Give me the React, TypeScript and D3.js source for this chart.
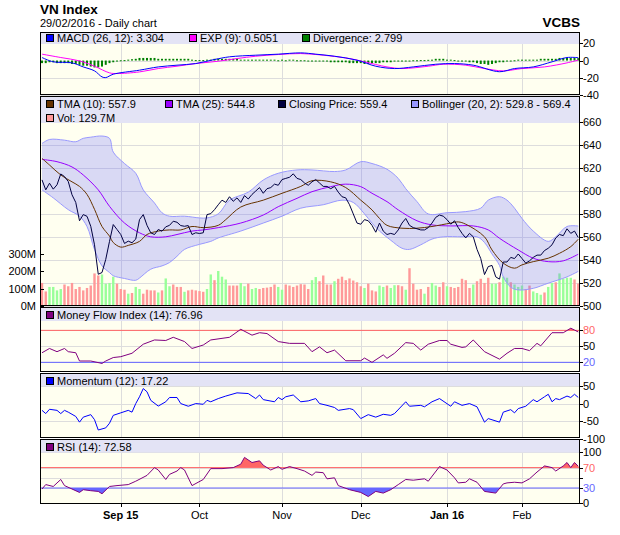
import React from "react";
import * as d3 from "d3";

type P = [number, number];

// closing price, one value per trading day (Aug 3 2015 .. Feb 29 2016)
const closePrice = [
  609.7, 601, 606.8, 601.6, 605.4, 614.9, 612.6, 608.3, 596.7, 590,
  574, 579.4, 577.9, 569.2, 553, 527.3, 528.8, 540.3, 556, 570.7,
  566.4, 562, 554.2, 556.2, 554.8, 558, 575, 579.4, 570, 563.5,
  562, 566.4, 564.9, 568.7, 570, 573.6, 572.7, 569.8, 569.2, 569.8,
  562, 563.5, 562.9, 563.5, 579.4, 580.2, 583.7, 588, 592, 590,
  595, 591, 594, 590, 596, 593, 597, 600, 603, 598,
  602, 603, 606, 605, 610, 611, 612, 615, 611, 610,
  607, 605, 608, 610, 607, 604, 604, 602, 604, 599,
  595, 594, 588, 580, 572, 571, 575, 574, 570, 564,
  572, 565, 562, 563, 562, 566, 572, 576, 570, 568,
  567, 566, 566, 568, 572, 577, 579, 578, 575, 571,
  574, 568, 563, 559, 563, 560, 549, 541, 527, 534,
  535, 525, 523, 538, 538, 542, 541, 545, 541, 537,
  539, 542, 544, 544, 548, 550, 553, 559, 562, 561,
  567, 563, 565, 559.4,
];

// volume in millions
const volumeM = [
  133, 84, 110, 110, 90, 98, 124, 114, 133, 98,
  110, 90, 104, 118, 188, 176, 182, 129, 133, 169,
  129, 98, 94, 71, 75, 110, 98, 71, 94, 90,
  90, 78, 90, 159, 114, 124, 110, 110, 82, 90,
  94, 90, 86, 82, 98, 182, 149, 202, 169, 153,
  118, 118, 118, 133, 114, 129, 98, 104, 98, 104,
  106, 110, 124, 110, 94, 124, 118, 110, 118, 126,
  124, 98, 149, 167, 143, 176, 124, 124, 143, 157,
  169, 149, 159, 147, 137, 114, 104, 129, 90, 84,
  118, 110, 118, 104, 120, 120, 114, 94, 218, 129,
  94, 98, 71, 110, 133, 118, 110, 137, 114, 110,
  104, 110, 157, 149, 104, 124, 143, 157, 133, 163,
  129, 129, 137, 169, 163, 137, 124, 110, 118, 98,
  118, 84, 75, 65, 78, 110, 133, 137, 188, 157,
  163, 163, 153, 129.7,
];

// 1 = up day (green bar), 0 = down day (red bar)
const volUp = [
  0, 0, 1, 1, 1, 1, 0, 0, 0, 0,
  0, 0, 0, 0, 0, 0, 1, 1, 1, 1,
  0, 0, 0, 1, 0, 1, 1, 0, 0, 0,
  0, 1, 0, 1, 1, 0, 0, 0, 1, 0,
  0, 0, 0, 0, 1, 1, 0, 1, 1, 1,
  0, 0, 0, 1, 1, 0, 1, 1, 0, 0,
  0, 0, 0, 1, 1, 0, 0, 0, 0, 0,
  0, 0, 1, 1, 0, 0, 0, 0, 1, 0,
  0, 0, 0, 0, 0, 0, 1, 0, 0, 0,
  1, 1, 0, 1, 1, 0, 0, 1, 0, 0,
  0, 0, 1, 0, 1, 1, 0, 0, 1, 0,
  0, 0, 0, 0, 0, 1, 0, 0, 0, 0,
  1, 1, 0, 1, 1, 0, 1, 1, 1, 0,
  0, 1, 1, 1, 0, 1, 1, 0, 1, 1,
  1, 1, 0, 0,
];

// [bar index, value]
const tma10: P[] = [
  [0, 628.5], [2, 622.7], [5, 614], [8, 608], [10, 604], [12, 597], [14, 584],
  [16, 569], [18, 560.6], [19, 555], [21, 551], [23, 552.5], [26, 556], [28, 562],
  [31, 565], [34, 566], [37, 566], [40, 569], [43, 568], [47, 570], [49, 575],
  [53, 586], [59, 592], [64, 598], [69, 604], [72, 609], [77, 608], [81, 603],
  [85, 592], [88, 583.5], [90, 576], [92, 570], [96, 567.5], [100, 567.5],
  [104, 569], [109, 572], [111, 573], [113, 571], [118, 560], [120, 548.5],
  [123, 537], [126, 532.6], [128, 535.5], [131, 538.3], [135, 541.3],
  [138, 545.6], [141, 551.4], [143, 557.9],
];

const tma25: P[] = [
  [0, 627.6], [4, 625.6], [8, 621], [11, 614], [15, 601], [18, 586.6], [22, 572],
  [26, 563.5], [29, 560], [33, 560], [36, 562], [40, 565], [43, 566], [47, 568],
  [53, 572], [59, 579], [63, 586.3], [68, 593.6], [72, 599.4], [77, 603.8],
  [81, 606], [85, 603.8], [88, 598], [92, 590.7], [95, 583.5], [100, 574],
  [104, 570.4], [109, 569.5], [115, 569.5], [119, 566], [122, 558.7],
  [127, 548.5], [131, 541.3], [135, 538.3], [139, 539], [143, 544.8],
];

const bollUpper: P[] = [
  [0, 641.5], [2, 645], [6, 644.4], [9, 643], [11, 646], [13, 647], [16, 648],
  [18, 646], [19, 634], [22, 624], [25, 615.5], [27, 601], [30, 589.5], [32, 581],
  [34, 578], [38, 578], [42, 576.5], [44, 576.5], [47, 580], [50, 592], [55, 599],
  [59, 609.6], [63, 615.5], [68, 618.4], [72, 618.4], [78, 617], [81, 618.4],
  [85, 625.6], [88, 624], [92, 619], [95, 611], [97, 602], [100, 590.7],
  [103, 580], [108, 581], [113, 582], [117, 585], [119, 592], [122, 595],
  [124, 592], [126, 585], [128, 576], [131, 565], [135, 556], [137, 560],
  [140, 569], [143, 569.4],
];

const bollLower: P[] = [
  [0, 601], [3, 594], [7, 583.7], [10, 578], [12, 569], [14, 549], [16, 534.6],
  [18, 528.8], [19, 526], [22, 523.6], [25, 522], [26, 524], [29, 531.7],
  [32, 534.6], [34, 537.5], [36, 543], [38, 549], [42, 553.4], [45, 556],
  [47, 559], [53, 565], [59, 572], [64, 578], [69, 585], [75, 588], [80, 592],
  [83, 590], [86, 580], [88, 572], [90, 565], [93, 557], [96, 550], [98, 549],
  [101, 553], [104, 558], [107, 560], [112, 560], [116, 560], [118, 555],
  [120, 545], [122, 535], [123, 525], [125, 516], [127, 513.6], [131, 515],
  [135, 519.5], [140, 525], [143, 529.8],
];

const macdLine: P[] = [
  [0, 3.5], [3, -1.5], [8, -2.7], [11, -7.4], [14, -12], [16, -19], [17, -19.8],
  [19, -15.9], [26, -11.2], [31, -7.4], [36, -5.4], [41, -3.5], [46, 1.2],
  [50, 4.3], [57, 6.2], [63, 7.4], [69, 8.9], [73, 7.4], [78, 5], [84, 0.4],
  [89, -6.6], [94, -9.3], [99, -7.4], [105, -4.3], [110, -3.5], [115, -5.4],
  [122, -13], [126, -9.3], [131, -7.4], [136, -1.5], [140, 3.5], [143, 3.304],
];

const expLine: P[] = [
  [0, 7.4], [5, 3.5], [10, -0.4], [14, -6.6], [18, -14.3], [20, -15.1],
  [26, -13.2], [31, -9.3], [36, -6.6], [41, -3.5], [47, -0.8], [52, 2.3],
  [57, 5], [63, 7], [69, 8.1], [75, 6.2], [82, 2.3], [86, -1.5], [92, -7.4],
  [96, -9.3], [103, -6.6], [107, -4.3], [113, -5.4], [118, -9.3], [123, -12],
  [128, -9.3], [134, -7.4], [140, -2.7], [143, 0.5051],
];

const divergence = [
  -3, -3, -2, -2, -3, -3, -3, -3, -4, -4, -5, -6, -6, -7, -8, -8, -7, -5, -3, -2, -1,
  0.3, 0.5, 1, 1.5,
  2, 3, 3, 3, 3, 3, 2, 2, 2, 2, 2, 2, 2, 2, 2, 1,
  0.5, 0.5, 0.5, 1,
  1, 2, 2, 2, 2, 2, 2, 2, 1, 1, 1, 1, 1, 1, 1, 1, 1, 1,
  0.3, 1, 0.3, 1, 1, 0.3, 0.3, 0.3,
  -1, -1, -1, -1, -1, -1, -2, -2, -2, -2, -2, -3, -3, -3, -3, -4, -4, -3, -3, -3, -2, -2, -2, -1, -1,
  -0.5, -0.3, 0, 0.3, 0.3, 0.5, 0.5, 0.8,
  1, 2, 2, 2, 1, 1,
  0.5, 0, -0.5,
  -1, -2, -2, -3, -4, -4, -5, -4, -3, -2, -2, -1, -1,
  0.3,
  1, 1, 1, 1, 1, 1, 2, 2, 2, 2, 2, 3, 3, 3, 3, 3, 2.8,
];

const mfi: P[] = [
  [0, 38], [2, 46], [4, 40], [6, 46], [7, 40], [9, 38], [10, 22.5], [13, 22.5],
  [16, 18], [17, 22.5], [19, 29], [21, 30.6], [24, 37], [27, 54], [30, 62],
  [33, 61], [35, 67], [38, 59], [40, 46], [43, 52.5], [45, 62], [48, 65],
  [50, 67], [53, 82], [56, 71], [58, 75.6], [60, 74], [63, 59], [66, 55.6],
  [70, 55.6], [72, 40], [74, 49], [76, 38], [78, 43], [81, 23], [85, 23],
  [86, 28], [88, 20], [91, 34], [92, 27.5], [94, 37], [97, 57], [99, 55.6],
  [101, 43], [103, 54], [106, 61], [108, 61], [109, 54], [112, 48], [113, 49],
  [115, 62], [118, 40], [122, 26], [124, 37], [126, 46], [128, 46], [130, 42],
  [132, 55.6], [133, 51], [136, 75.6], [139, 75.6], [141, 84], [142, 80.6],
  [143, 76.96],
];

const momentum: P[] = [
  [0, -19], [1, -28], [2, -16], [4, -19], [5, -28], [6, -19], [7, -24], [9, -36],
  [10, -52], [11, -38], [13, -31], [14, -45], [15, -74], [17, -68], [18, -55],
  [19, -33], [21, -26], [23, -19], [24, -24], [25, 0], [26, 19], [27, 42],
  [28, 33], [29, 9], [31, -7], [33, 5], [34, 17], [36, 17], [37, 0], [39, -7.5],
  [41, 0], [43, -2], [44, 9], [45, 5], [47, 14], [49, 21], [52, 30], [55, 28],
  [57, 14], [58, 24], [59, 11], [62, 5], [63, 17], [64, 11], [65, 19], [67, 24],
  [69, 5], [71, 7.5], [73, 14], [74, 0], [76, -5], [78, -11], [79, -19],
  [82, -14], [83, -17], [85, -42], [87, -31], [89, -38], [91, -30], [93, -33],
  [94, -28], [97, 5], [98, -7.5], [101, -5], [102, -9], [104, 5], [106, 14],
  [109, -7.5], [110, 5], [112, -5], [114, 0], [116, -9], [118, -52], [119, -42],
  [122, -52], [123, -24], [125, -17], [126, -26], [127, -14], [129, -7.5],
  [131, 11], [132, 5], [134, 19], [135, 26], [136, 5], [137, 14], [138, 11],
  [140, 21], [141, 17], [142, 26], [143, 17.22],
];

const rsi: P[] = [
  [0, 28], [1, 36.7], [3, 33], [5, 46.7], [6, 34.7], [8, 28], [10, 21.3],
  [11, 26.7], [13, 24.7], [15, 23.3], [16, 18.7], [18, 33], [20, 34.7],
  [23, 36.7], [25, 43.3], [28, 54.7], [30, 70], [31, 65.3], [33, 46.7],
  [34, 56.7], [36, 63.3], [37, 70], [38, 65.3], [40, 34.7], [43, 46.7],
  [45, 68], [48, 68], [51, 70], [53, 76.7], [54, 90], [56, 80], [58, 83.3],
  [59, 74.7], [61, 65.3], [63, 72], [64, 66.7], [66, 72], [68, 68], [70, 63.3],
  [72, 54.7], [73, 61.3], [75, 60], [76, 48], [78, 50], [79, 34.7], [82, 26.7],
  [85, 21.3], [87, 13.3], [89, 23.3], [91, 20], [93, 26.7], [95, 36.7],
  [97, 46.7], [99, 45.3], [102, 48], [103, 43.3], [106, 72], [108, 65.3],
  [110, 50], [111, 40], [113, 41.3], [114, 48], [116, 41.3], [118, 23.3],
  [121, 20], [123, 38], [124, 40], [126, 41.3], [128, 40], [130, 48],
  [132, 61.3], [134, 73.3], [136, 70], [137, 63.3], [139, 73.3], [140, 80],
  [141, 70], [142, 80], [143, 72.58],
];

const monthTicks = [
  { i: 21, label: "Sep 15", bold: true },
  { i: 42, label: "Oct", bold: false },
  { i: 64, label: "Nov", bold: false },
  { i: 85, label: "Dec", bold: false },
  { i: 108, label: "Jan 16", bold: true },
  { i: 128, label: "Feb", bold: false },
];
const macdTicks = [20, 0, -20, -40];
const priceTicks = [660, 640, 620, 600, 580, 560, 540, 520, 500];
const volTicks = [0, 100, 200, 300];
const mfiTicks = [80, 50, 20];
const momTicks = [50, 0, -50, -100];
const rsiTicks = [100, 70, 50, 30, 0];

const FONT = "'Liberation Sans', Arial, Helvetica, sans-serif";
const PLOT_BG = "#fffff0";
const GRID = "#dddddd";
const HDR_BG = "#e3e3f5";
const UP_RED = "#ff6666";
const LOW_BLUE = "#6666ff";
const L = 40;
const R = 580;

const x = d3.scaleLinear().domain([0, 143]).range([42, 578.25]);

type Legend = { color: string; text: string; x: number; row?: number };

function Panel(props: {
  id: string;
  top: number;
  bottom: number;
  hdr: number;
  legendY: number;
  y: d3.ScaleLinear<number, number>;
  ticks: number[];
  labelOf?: (v: number) => string;
  colorOf?: (v: number) => string;
  legend: Legend[];
  children?: React.ReactNode;
}) {
  const { id, top, bottom, hdr, y, ticks, legend } = props;
  const labelOf = props.labelOf || ((v: number) => String(v));
  const colorOf = props.colorOf || (() => "#000");
  return (
    <g>
      <defs>
        <clipPath id={id}>
          <rect x={L} y={top} width={R - L} height={bottom - top} />
        </clipPath>
      </defs>
      <rect x={L} y={top} width={R - L} height={bottom - top} fill={PLOT_BG} />
      <g shapeRendering="crispEdges" stroke={GRID}>
        {ticks.map((v) => (
          <line key={v} x1={L} x2={R} y1={Math.round(y(v)) + 0.5} y2={Math.round(y(v)) + 0.5} />
        ))}
        {monthTicks.map((t) => (
          <line key={t.i} x1={Math.round(x(t.i)) + 0.5} x2={Math.round(x(t.i)) + 0.5} y1={top} y2={bottom} />
        ))}
      </g>
      <g clipPath={`url(#${id})`}>{props.children}</g>
      <rect x={L + 1} y={top + 1} width={R - L - 1} height={hdr} fill={HDR_BG} />
      {legend.map((it) => {
        const cy = props.legendY + (it.row || 0) * 14;
        return (
          <g key={it.text}>
            <rect x={it.x + 0.5} y={cy - 3.5} width={7} height={7} fill={it.color} stroke="#000" shapeRendering="crispEdges" />
            <text x={it.x + 11} y={cy + 4} fontSize={11} fontFamily={FONT} fill="#000">
              {it.text}
            </text>
          </g>
        );
      })}
      <rect x={L + 0.5} y={top + 0.5} width={R - L - 1} height={bottom - top - 1} fill="none" stroke="#000" shapeRendering="crispEdges" />
      {ticks.map((v) => (
        <g key={v}>
          <line x1={R} x2={R + 3} y1={Math.round(y(v)) + 0.5} y2={Math.round(y(v)) + 0.5} stroke="#000" shapeRendering="crispEdges" />
          <text x={R + 3} y={y(v) + 4} fontSize={11} fontFamily={FONT} fill={colorOf(v)}>
            {labelOf(v)}
          </text>
        </g>
      ))}
    </g>
  );
}

export default function App() {
  const macdY = d3.scaleLinear().domain([-40, 20]).range([95, 43.3]);
  const priceY = d3.scaleLinear().domain([500, 660]).range([305.5, 122.3]);
  const volY = d3.scaleLinear().domain([0, 300]).range([306, 254]);
  const mfiY = d3.scaleLinear().domain([0, 100]).range([373, 319.7]);
  const momY = d3.scaleLinear().domain([-100, 50]).range([439.3, 385.7]);
  const rsiY = d3.scaleLinear().domain([0, 100]).range([503.3, 452.3]);

  const lineOf = (ys: d3.ScaleLinear<number, number>, curve: d3.CurveFactory = d3.curveLinear) =>
    d3.line<P>().x((d) => x(d[0])).y((d) => ys(d[1])).curve(curve);
  const smooth = d3.curveCatmullRom.alpha(0.5);

  const closeLine = d3
    .line<number>()
    .x((_, i) => x(i))
    .y((d) => priceY(d));

  const bandUp = lineOf(priceY, smooth)(bollUpper) || "";
  const bandLo = lineOf(priceY, smooth)([...bollLower].reverse()) || "";
  const bandPath = bandUp + "L" + bandLo.slice(1) + "Z";

  const fillBand = (ys: d3.ScaleLinear<number, number>, level: number) =>
    d3.area<P>().x((d) => x(d[0])).y0(ys(level)).y1((d) => ys(d[1]));

  const thresholdPart = (
    id: string,
    ys: d3.ScaleLinear<number, number>,
    data: P[],
    hi: number,
    lo: number,
    top: number,
    bottom: number
  ) => (
    <g>
      <defs>
        <clipPath id={id + "hi"}>
          <rect x={L} y={top} width={R - L} height={ys(hi) - top} />
        </clipPath>
        <clipPath id={id + "lo"}>
          <rect x={L} y={ys(lo)} width={R - L} height={bottom - ys(lo)} />
        </clipPath>
      </defs>
      <path d={fillBand(ys, hi)(data) || ""} fill={UP_RED} clipPath={`url(#${id}hi)`} />
      <path d={fillBand(ys, lo)(data) || ""} fill={LOW_BLUE} clipPath={`url(#${id}lo)`} />
      <line x1={L} x2={R} y1={ys(hi)} y2={ys(hi)} stroke={UP_RED} />
      <line x1={L} x2={R} y1={ys(lo)} y2={ys(lo)} stroke={LOW_BLUE} />
      <path d={lineOf(ys)(data) || ""} fill="none" stroke="#800080" strokeWidth={1} />
    </g>
  );

  return (
    <svg width={620} height={535} style={{ position: "absolute", left: 0, top: 0, background: "#fff" }}>
      <rect width={620} height={535} fill="#fff" />
      <text x={40} y={14} fontSize={13.5} fontWeight="bold" fontFamily={FONT}>VN Index</text>
      <text x={40} y={26.5} fontSize={11} fontFamily={FONT}>29/02/2016 - Daily chart</text>
      <text x={580} y={27} fontSize={13.5} fontWeight="bold" fontFamily={FONT} textAnchor="end">VCBS</text>

      <Panel
        id="cMacd"
        top={32}
        bottom={95}
        hdr={11}
        legendY={37.8}
        y={macdY}
        ticks={macdTicks}
        legend={[
          { color: "#0000ff", text: "MACD (26, 12): 3.304", x: 46 },
          { color: "#ff00ff", text: "EXP (9): 0.5051", x: 189 },
          { color: "#008000", text: "Divergence: 2.799", x: 302 },
        ]}
      >
        {divergence.map((v, i) => (
          <rect
            key={i}
            x={x(i) - 1}
            width={2}
            y={Math.min(macdY(v), macdY(0))}
            height={Math.max(1, Math.abs(macdY(v) - macdY(0)))}
            fill="#008000"
          />
        ))}
        <path d={lineOf(macdY, smooth)(expLine) || ""} fill="none" stroke="#ff00ff" />
        <path d={lineOf(macdY, smooth)(macdLine) || ""} fill="none" stroke="#0000ff" />
      </Panel>

      <Panel
        id="cMain"
        top={96}
        bottom={306}
        hdr={26}
        legendY={104.3}
        y={priceY}
        ticks={priceTicks}
        legend={[
          { color: "#663300", text: "TMA (10): 557.9", x: 46 },
          { color: "#9900ff", text: "TMA (25): 544.8", x: 165 },
          { color: "#000040", text: "Closing Price: 559.4", x: 278 },
          { color: "#9999ff", text: "Bollinger (20, 2): 529.8 - 569.4", x: 411 },
          { color: "#ff9999", text: "Vol: 129.7M", x: 46, row: 1 },
        ]}
      >
        {volumeM.map((v, i) => (
          <rect
            key={i}
            x={x(i) - 1.2}
            width={2.4}
            y={volY(v)}
            height={volY(0) - volY(v)}
            fill={volUp[i] ? "#99ff99" : "#ff9999"}
          />
        ))}
        <path d={bandPath} fill="#6666ff" fillOpacity={0.25} stroke="none" />
        <path d={bandUp} fill="none" stroke="#9999ff" />
        <path d={lineOf(priceY, smooth)(bollLower) || ""} fill="none" stroke="#9999ff" />
        <path d={lineOf(priceY, smooth)(tma25) || ""} fill="none" stroke="#9900ff" />
        <path d={lineOf(priceY, smooth)(tma10) || ""} fill="none" stroke="#663300" />
        <path d={closeLine(closePrice) || ""} fill="none" stroke="#000040" />
      </Panel>
      {volTicks.map((v) => (
        <g key={v}>
          <line x1={L} x2={L + 4} y1={Math.round(volY(v)) + 0.5} y2={Math.round(volY(v)) + 0.5} stroke="#000" shapeRendering="crispEdges" />
          <text x={36} y={volY(v) + 4} fontSize={11} fontFamily={FONT} textAnchor="end">
            {v + "M"}
          </text>
        </g>
      ))}

      <Panel
        id="cMfi"
        top={307}
        bottom={372}
        hdr={13}
        legendY={314.8}
        y={mfiY}
        ticks={mfiTicks}
        colorOf={(v) => (v === 80 ? UP_RED : v === 20 ? LOW_BLUE : "#000")}
        legend={[{ color: "#800080", text: "Money Flow Index (14): 76.96", x: 46 }]}
      >
        {thresholdPart("mf", mfiY, mfi, 80, 20, 307, 372)}
      </Panel>

      <Panel
        id="cMom"
        top={373}
        bottom={438}
        hdr={12}
        legendY={381}
        y={momY}
        ticks={momTicks}
        legend={[{ color: "#0000ff", text: "Momentum (12): 17.22", x: 46 }]}
      >
        <path d={lineOf(momY)(momentum) || ""} fill="none" stroke="#0000ff" />
      </Panel>

      <Panel
        id="cRsi"
        top={439}
        bottom={504}
        hdr={12.5}
        legendY={446.5}
        y={rsiY}
        ticks={rsiTicks}
        labelOf={(v) => (v === 50 ? "" : String(v))}
        colorOf={(v) => (v === 70 ? UP_RED : v === 30 ? LOW_BLUE : "#000")}
        legend={[{ color: "#800080", text: "RSI (14): 72.58", x: 46 }]}
      >
        {thresholdPart("rs", rsiY, rsi, 70, 30, 439, 504)}
      </Panel>

      {monthTicks.map((t) => (
        <g key={t.i}>
          <line x1={Math.round(x(t.i)) + 0.5} x2={Math.round(x(t.i)) + 0.5} y1={504} y2={507} stroke="#000" shapeRendering="crispEdges" />
          <text x={x(t.i)} y={518.5} fontSize={11} fontFamily={FONT} textAnchor="middle" fontWeight={t.bold ? "bold" : "normal"}>
            {t.label}
          </text>
        </g>
      ))}
    </svg>
  );
}
